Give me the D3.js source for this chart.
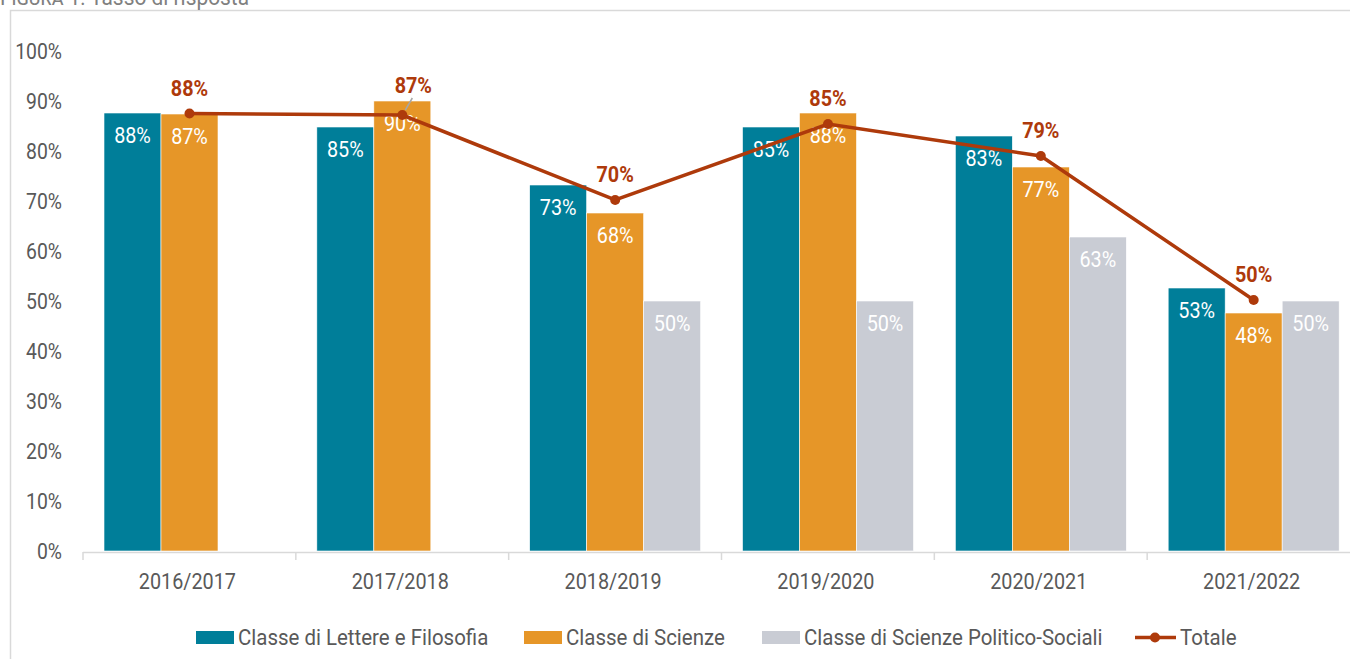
<!DOCTYPE html>
<html>
<head>
<meta charset="utf-8">
<script src="https://cdn.jsdelivr.net/npm/d3@7"></script>
<style>
  html, body { margin: 0; padding: 0; background: #fff; }
  svg { display: block; font-family: Roboto, "Noto Sans", sans-serif; }
</style>
</head>
<body>
<svg id="chart" width="1350" height="659"></svg>
<script>
// data
var years = ['2016/2017', '2017/2018', '2018/2019', '2019/2020', '2020/2021', '2021/2022']
var lettere = [0.876, 0.848, 0.732, 0.848, 0.83, 0.526]
var scienze = [0.874, 0.90, 0.676, 0.876, 0.768, 0.476]
var politico = [null, null, 0.50, 0.50, 0.628, 0.50]
var totale = [0.875, 0.872, 0.702, 0.854, 0.79, 0.502]
var seriesNames = ['Classe di Lettere e Filosofia', 'Classe di Scienze', 'Classe di Scienze Politico-Sociali']
var yTicks = [0, 0.1, 0.2, 0.3, 0.4, 0.5, 0.6, 0.7, 0.8, 0.9, 1]

var colors = ['#007e99', '#e69628', '#c9ccd4']
var lineColor = '#ae3a0b'
var textColor = '#595959'
var squeeze = 0.9

var svg = d3.select('#chart')

// little helper, condensed text look
function txt (g, x, y, s, k) {
  return g.append('text')
    .attr('transform', 'translate(' + x + ',' + y + ') scale(' + (k || squeeze) + ',1)')
    .text(s)
}

// frame
svg.append('path')
  .attr('d', 'M10.5,700 V10.5 H1360')
  .attr('fill', 'none')
  .attr('stroke', '#d9d9d9')
  .attr('stroke-width', 1.5)

// title (cut at top like in the source)
var title = svg.append('text')
  .attr('transform', 'translate(0,5) scale(0.95,1)')
  .attr('fill', '#808080')
  .style('font-size', '22px')
title.append('tspan').text('F')
title.append('tspan').style('font-variant', 'small-caps').text('igura')
title.append('tspan').text(' 1: Tasso di risposta')

var x = d3.scaleBand().domain(years).range([83, 1360]).padding(0)
var xSub = d3.scaleBand().domain([0, 1, 2]).range([21, 192])
var y = d3.scaleLinear().domain([0, 1]).range([551, 51])
var fmt = function (v) { return Math.round(v * 100) + '%' }

// y labels
var yg = svg.append('g')
  .attr('fill', textColor)
  .attr('text-anchor', 'end')
  .style('font-size', '22px')
yTicks.forEach(function (t) {
  txt(yg, 62, y(t) + 8, fmt(t), 0.88)
})

// bars
var all = [lettere, scienze, politico]
var barG = svg.append('g')
all.forEach(function (vals, si) {
  var recs = years.map(function (yr, i) { return { yr: yr, v: vals[i] } })
    .filter(function (d) { return d.v != null })
  barG.selectAll('rect.s' + si)
    .data(recs)
    .enter().append('rect')
    .attr('x', function (d) { return x(d.yr) + xSub(si) })
    .attr('width', xSub.bandwidth())
    .attr('y', function (d) { return y(d.v) })
    .attr('height', function (d) { return y(0) - y(d.v) })
    .attr('fill', colors[si])
    .attr('stroke', '#fff')
    .attr('stroke-width', 0.6)
  var lg = barG.append('g')
    .attr('fill', '#fff')
    .attr('text-anchor', 'middle')
    .style('font-size', '22px')
  recs.forEach(function (d) {
    txt(lg, x(d.yr) + xSub(si) + xSub.bandwidth() / 2, y(d.v) + 30, fmt(d.v))
  })
})

// x axis
var axG = svg.append('g')
axG.append('line')
  .attr('x1', 83).attr('x2', 1360)
  .attr('y1', 552.5).attr('y2', 552.5)
  .attr('stroke', '#d9d9d9').attr('stroke-width', 1.5)
years.forEach(function (yr) {
  axG.append('line')
    .attr('x1', x(yr)).attr('x2', x(yr))
    .attr('y1', 552).attr('y2', 560)
    .attr('stroke', '#d9d9d9').attr('stroke-width', 1.5)
})
var xl = axG.append('g')
  .attr('fill', textColor)
  .attr('text-anchor', 'middle')
  .style('font-size', '22px')
years.forEach(function (yr) {
  txt(xl, x(yr) + x.bandwidth() / 2 - 2, 589, yr)
})

// totale line
var cx = function (i) { return x(years[i]) + xSub(1) + xSub.bandwidth() / 2 }
var line = d3.line()
  .x(function (d, i) { return cx(i) })
  .y(function (d) { return y(d) })
svg.append('path')
  .datum(totale)
  .attr('d', line)
  .attr('fill', 'none')
  .attr('stroke', lineColor)
  .attr('stroke-width', 3.5)
svg.selectAll('circle.tot')
  .data(totale)
  .enter().append('circle')
  .attr('cx', function (d, i) { return cx(i) })
  .attr('cy', function (d) { return y(d) })
  .attr('r', 5)
  .attr('fill', lineColor)

// leader line for the 2017/2018 label
svg.append('line')
  .attr('x1', cx(1) + 3).attr('y1', y(totale[1]) - 5)
  .attr('x2', cx(1) + 10).attr('y2', y(totale[1]) - 17)
  .attr('stroke', '#a6a6a6').attr('stroke-width', 1.5)

var tl = svg.append('g')
  .attr('fill', lineColor)
  .attr('text-anchor', 'middle')
  .style('font-size', '22px')
  .style('font-weight', 700)
totale.forEach(function (v, i) {
  var dx = i === 1 ? 11 : 0
  var dy = i === 1 ? -22 : -18
  txt(tl, cx(i) + dx, y(v) + dy, fmt(v), 0.9)
})

// legend
var leg = svg.append('g').style('font-size', '22px').attr('fill', textColor)
var legX = [196, 524, 762]
seriesNames.forEach(function (n, i) {
  leg.append('rect')
    .attr('x', legX[i]).attr('y', 631)
    .attr('width', 38).attr('height', 13)
    .attr('fill', colors[i])
  txt(leg, legX[i] + 42, 645, n, 0.93)
})
leg.append('line')
  .attr('x1', 1135).attr('x2', 1176)
  .attr('y1', 637.5).attr('y2', 637.5)
  .attr('stroke', lineColor).attr('stroke-width', 3.5)
leg.append('circle')
  .attr('cx', 1155).attr('cy', 637.5).attr('r', 5)
  .attr('fill', lineColor)
txt(leg, 1180, 645, 'Totale', 0.93)
</script>
</body>
</html>
